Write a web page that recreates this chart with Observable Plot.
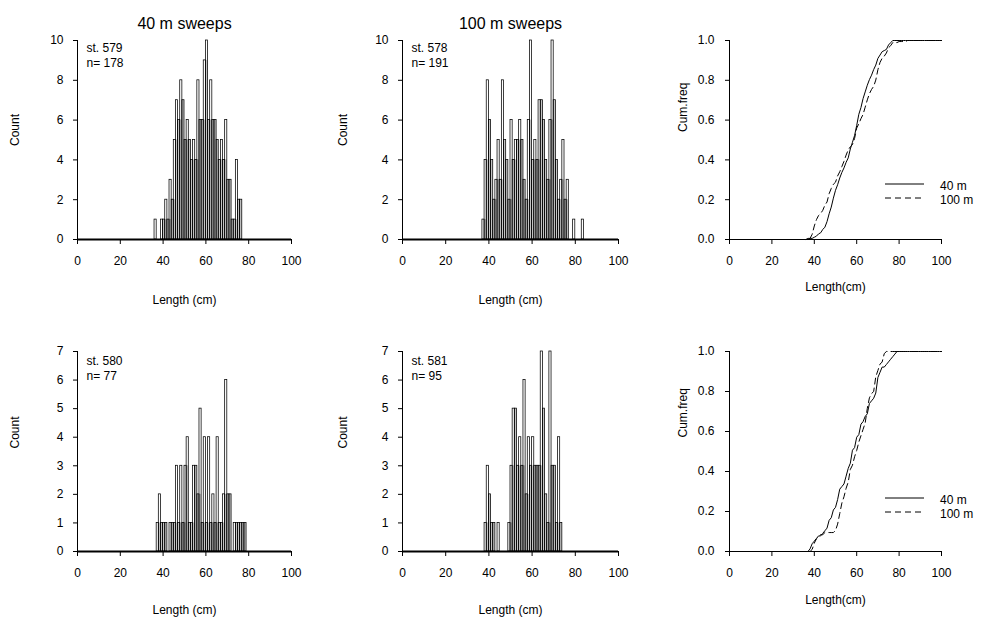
<!DOCTYPE html>
<html>
<head>
<meta charset="utf-8">
<script src="https://cdn.jsdelivr.net/npm/d3@7"></script>
<script src="https://cdn.jsdelivr.net/npm/@observablehq/plot@0.6"></script>
<style>
  body { margin: 0; background: #fff; }
  #wrap { position: relative; width: 982px; height: 628px; overflow: hidden; background: #fff;
          font-family: 'Liberation Sans', Arial, Helvetica, sans-serif; }
  .panel { position: absolute; }
  .panel svg { display: block; }
</style>
</head>
<body>
<div id="wrap"></div>
<script>
// ---------------- data ----------------
const xTicks = [0, 20, 40, 60, 80, 100];
const countTicksTop = [0, 2, 4, 6, 8, 10];
const countTicksBottom = [0, 1, 2, 3, 4, 5, 6, 7];
const cumTicks = [0, 0.2, 0.4, 0.6, 0.8, 1.0];

const titles = ["40 m sweeps", "100 m sweeps"];
const legendLabels = ["40 m", "100 m"];

// st. 579 (40 m sweeps), n = 178
const len579 = [36, 39, 40, 41, 42, 43, 44, 45, 46, 47, 48, 49, 50, 51, 52, 53, 54, 55, 56, 57,
                58, 59, 60, 61, 62, 63, 64, 65, 66, 67, 68, 69, 70, 71, 72, 73, 74, 75, 76];
const cnt579 = [1, 1, 1, 2, 1, 3, 2, 5, 7, 6, 8, 7, 5, 6, 5, 4, 5, 4, 8, 6,
                6, 9, 10, 6, 8, 6, 6, 5, 4, 5, 4, 6, 3, 3, 1, 1, 4, 2, 2];

// st. 578 (100 m sweeps), n = 191
const len578 = [37, 38, 39, 40, 41, 42, 43, 44, 45, 46, 47, 48, 49, 50, 51, 52, 53, 54, 55, 56,
                57, 58, 59, 60, 61, 62, 63, 64, 65, 66, 67, 68, 69, 70, 71, 72, 73, 74, 75, 76, 79, 83];
const cnt578 = [1, 4, 8, 6, 4, 2, 3, 5, 3, 8, 5, 4, 2, 6, 4, 5, 5, 6, 5, 3,
                2, 6, 10, 4, 5, 4, 7, 7, 6, 4, 3, 6, 10, 7, 4, 2, 3, 5, 2, 3, 1, 1];

// st. 580 (40 m sweeps), n = 77
const len580 = [37, 38, 39, 40, 41, 43, 44, 45, 46, 47, 48, 49, 50, 51, 52, 53, 54, 55, 56, 57,
                58, 59, 60, 61, 62, 63, 64, 65, 66, 67, 68, 69, 70, 71, 73, 74, 75, 76, 77, 78];
const cnt580 = [1, 2, 1, 1, 1, 1, 1, 1, 3, 1, 3, 1, 3, 4, 1, 1, 3, 3, 2, 5,
                1, 4, 1, 4, 1, 2, 1, 4, 1, 1, 2, 6, 2, 2, 1, 1, 1, 1, 1, 1];

// st. 581 (100 m sweeps), n = 95
const len581 = [38, 39, 40, 41, 42, 44, 49, 50, 51, 52, 53, 54, 55, 56, 57, 58, 59, 60, 61, 62,
                63, 64, 65, 66, 67, 68, 69, 70, 71, 72, 73];
const cnt581 = [1, 3, 2, 1, 1, 1, 1, 3, 5, 5, 3, 4, 3, 6, 2, 4, 3, 4, 3, 3,
                3, 7, 5, 2, 1, 7, 3, 3, 1, 4, 1];

// ---------------- layout ----------------
const FONT = "'Liberation Sans', Arial, Helvetica, sans-serif";
const cols = [
  {left: 0,   width: 327, ml: 77, mr: 36, ylabDx: -62},
  {left: 327, width: 327, ml: 75, mr: 36, ylabDx: -59},
  {left: 654, width: 328, ml: 75, mr: 41, ylabDx: -46}
];
const rows = [
  {top: 0,   height: 314, mt: 40, mb: 75, xlabDy: 64, cumXlabDy: 51, stDy: 3, countDy: 6, cumDy: -8},
  {top: 314, height: 314, mt: 37, mb: 77, xlabDy: 62, cumXlabDy: 52, stDy: 5, countDy: -3, cumDy: -14}
];
const wrap = document.getElementById("wrap");

function place(svg, col, row) {
  const d = document.createElement("div");
  d.className = "panel";
  d.style.left = col.left + "px";
  d.style.top = row.top + "px";
  d.appendChild(svg);
  wrap.appendChild(d);
}

function baseOpts(col, row, yDomain) {
  return {
    width: col.width, height: row.height,
    marginLeft: col.ml, marginRight: col.mr, marginTop: row.mt, marginBottom: row.mb,
    x: {domain: [0, 100], nice: false},
    y: {domain: yDomain, nice: false},
    style: {fontFamily: FONT, fontSize: "12px", color: "black", background: "transparent", overflow: "visible"}
  };
}

function histPanel(lens, cnts, station, yMax, yTicks, col, row, title) {
  const n = d3.sum(cnts);
  const byLen = new Map(lens.map((L, i) => [L, cnts[i]]));
  const data = lens.map((L, i) => ({L, c: cnts[i], shade: Math.min(cnts[i], byLen.get(L - 1) ?? 0)}));
  const marks = [
    // dense, adjacent bars render as grey in the original
    Plot.rectY(data, {x1: "L", x2: d => d.L + 1, y1: 0, y2: "shade", fill: "#c4c4c4", stroke: "none"}),
    Plot.rectY(data, {x1: "L", x2: d => d.L + 1, y1: 0, y2: "c", fill: "none", stroke: "black", strokeWidth: 0.75}),
    Plot.ruleY([0], {stroke: "black", strokeWidth: 2}),
    Plot.ruleX([0], {stroke: "black", strokeWidth: 1}),
    Plot.axisX({ticks: xTicks, tickSize: 5, tickPadding: 12, label: null, tickFormat: d3.format("d")}),
    Plot.axisY({ticks: yTicks, tickSize: 4, tickPadding: 10, label: null, tickFormat: d3.format("d")}),
    Plot.text(["Length (cm)"], {frameAnchor: "bottom", dy: row.xlabDy}),
    Plot.text(["Count"], {frameAnchor: "left", dx: col.ylabDx, dy: row.countDy, rotate: -90}),
    Plot.text(["st. " + station], {frameAnchor: "top-left", dx: 9, dy: row.stDy, textAnchor: "start"}),
    Plot.text(["n= " + n], {frameAnchor: "top-left", dx: 9, dy: row.stDy + 15, textAnchor: "start"})
  ];
  if (title) marks.push(Plot.text([title], {frameAnchor: "top", dy: -23, fontSize: 16}));
  place(Plot.plot({...baseOpts(col, row, [0, yMax]), marks}), col, row);
}

function ecdf(lens, cnts) {
  const n = d3.sum(cnts);
  const pts = [];
  for (let x = 0; x <= 100; x++) {
    let s = 0;
    lens.forEach((L, i) => { if (L < x) s += cnts[i]; });
    pts.push({x, y: s / n});
  }
  return pts;
}

function cumPanel(lensA, cntsA, lensB, cntsB, col, row) {
  const marks = [
    Plot.ruleY([0], {stroke: "black", strokeWidth: 1}),
    Plot.ruleX([0], {stroke: "black", strokeWidth: 1}),
    Plot.axisX({ticks: xTicks, tickSize: 5, tickPadding: 12, label: null, tickFormat: d3.format("d")}),
    Plot.axisY({ticks: cumTicks, tickSize: 4, tickPadding: 11, label: null, tickFormat: d3.format(".1f")}),
    Plot.line(ecdf(lensA, cntsA), {x: "x", y: "y", stroke: "black", strokeWidth: 1}),
    Plot.line(ecdf(lensB, cntsB), {x: "x", y: "y", stroke: "black", strokeWidth: 1, strokeDasharray: "6,4"}),
    Plot.text(["Length(cm)"], {frameAnchor: "bottom", dy: row.cumXlabDy}),
    Plot.text(["Cum.freq"], {frameAnchor: "left", dx: col.ylabDx, dy: row.cumDy, rotate: -90})
  ];
  place(Plot.plot({...baseOpts(col, row, [0, 1]), marks}), col, row);
}

function legend(ySolid) {
  const ns = "http://www.w3.org/2000/svg";
  const svg = document.createElementNS(ns, "svg");
  svg.setAttribute("width", 110);
  svg.setAttribute("height", 36);
  svg.style.position = "absolute";
  svg.style.left = "875px";
  svg.style.top = (ySolid - 10) + "px";
  svg.style.fontFamily = FONT;
  svg.style.fontSize = "12px";
  const rowsY = [10, 24];
  legendLabels.forEach((lab, i) => {
    const ln = document.createElementNS(ns, "line");
    ln.setAttribute("x1", 10); ln.setAttribute("x2", 49);
    ln.setAttribute("y1", rowsY[i]); ln.setAttribute("y2", rowsY[i]);
    ln.setAttribute("stroke", "black");
    ln.setAttribute("stroke-width", 1);
    if (i === 1) ln.setAttribute("stroke-dasharray", "6,4");
    svg.appendChild(ln);
    const t = document.createElementNS(ns, "text");
    t.setAttribute("x", 65);
    t.setAttribute("y", rowsY[i] + 6);
    t.textContent = lab;
    svg.appendChild(t);
  });
  wrap.appendChild(svg);
}

histPanel(len579, cnt579, 579, 10, countTicksTop, cols[0], rows[0], titles[0]);
histPanel(len578, cnt578, 578, 10, countTicksTop, cols[1], rows[0], titles[1]);
cumPanel(len579, cnt579, len578, cnt578, cols[2], rows[0]);
histPanel(len580, cnt580, 580, 7, countTicksBottom, cols[0], rows[1], null);
histPanel(len581, cnt581, 581, 7, countTicksBottom, cols[1], rows[1], null);
cumPanel(len580, cnt580, len581, cnt581, cols[2], rows[1]);
legend(184);
legend(498);
</script>
</body>
</html>
